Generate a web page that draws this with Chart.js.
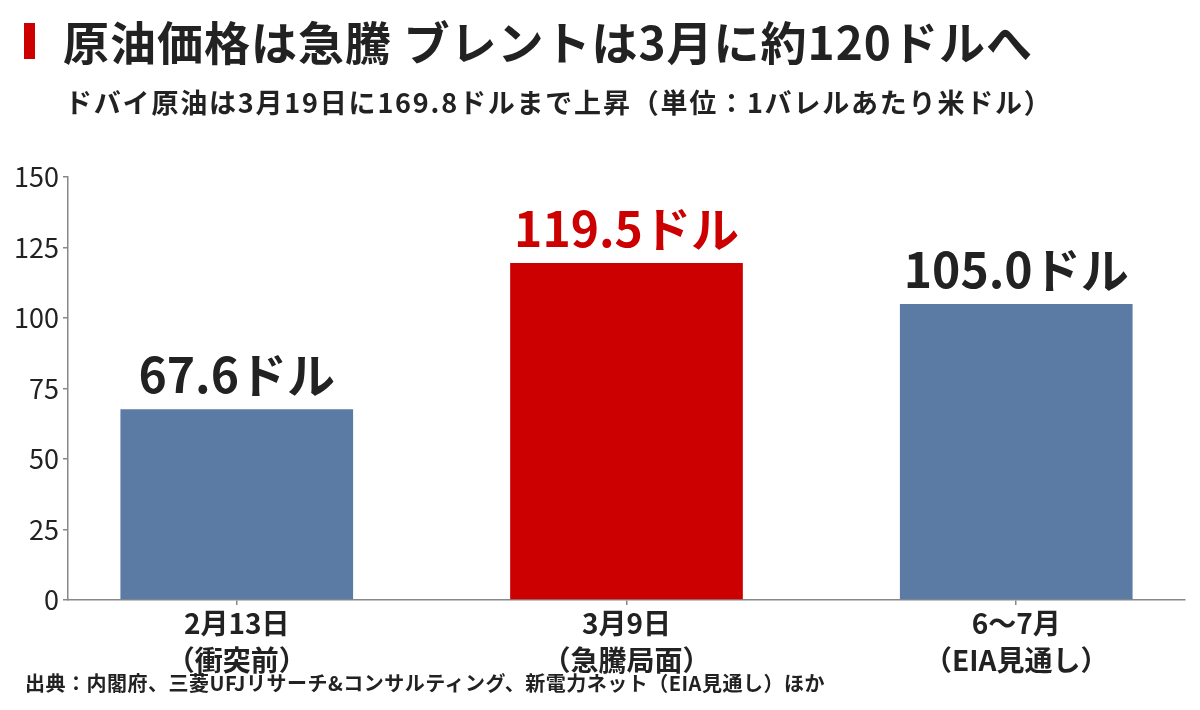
<!DOCTYPE html>
<html lang="ja">
<head>
<meta charset="utf-8">
<script src="https://cdn.jsdelivr.net/npm/chart.js@4"></script>
<style>
  html, body { margin:0; padding:0; background:#fff; }
  body { width:1200px; height:710px; position:relative; overflow:hidden;
         font-family:"Noto Sans CJK JP","Noto Sans",sans-serif; color:#222; }
  #wrap { position:absolute; left:0; top:0; width:1200px; height:710px; }
  .mark { position:absolute; left:24px; top:23px; width:11px; height:36px; background:#cc0000; }
  .title { position:absolute; left:63px; top:9px; font-size:46px; font-weight:700; line-height:62px; white-space:nowrap; letter-spacing:1px; }
  .sub { position:absolute; left:65px; top:84px; font-size:27px; font-weight:700; line-height:36px; white-space:nowrap; letter-spacing:1.8px; }
  .foot { position:absolute; left:25px; top:670px; font-size:20px; font-weight:700; line-height:26px; white-space:nowrap; letter-spacing:0.5px; }
</style>
</head>
<body>
<div id="wrap"><canvas id="c" width="1200" height="710"></canvas></div>
<div class="mark"></div>
<div class="title">原油価格は急騰 ブレントは3月に約120ドルへ</div>
<div class="sub">ドバイ原油は3月19日に169.8ドルまで上昇（単位：1バレルあたり米ドル）</div>
<div class="foot">出典：内閣府、三菱UFJリサーチ&amp;コンサルティング、新電力ネット（EIA見通し）ほか</div>
<script>
const categories = [["2月13日","（衝突前）"],["3月9日","（急騰局面）"],["6〜7月","（EIA見通し）"]];
const values = [67.6, 119.5, 105.0];
const valueLabels = ["67.6ドル","119.5ドル","105.0ドル"];
const barColors = ["#5b7ba5","#cc0000","#5b7ba5"];
const labelColors = ["#222222","#cc0000","#222222"];
const yTicks = [0,25,50,75,100,125,150];

const FONT = '"Noto Sans CJK JP","Noto Sans",sans-serif';

const valueLabelPlugin = {
  id:'valueLabels',
  afterDatasetsDraw(chart){
    const ctx = chart.ctx;
    const meta = chart.getDatasetMeta(0);
    ctx.save();
    ctx.font = '700 48px ' + FONT;
    ctx.textAlign = 'center';
    ctx.textBaseline = 'alphabetic';
    meta.data.forEach((bar,i)=>{
      ctx.fillStyle = labelColors[i];
      ctx.fillText(valueLabels[i], bar.x, bar.y - 16);
    });
    ctx.restore();
  }
};

new Chart(document.getElementById('c'), {
  type:'bar',
  data:{
    datasets:[{
      data: values.map((v,i)=>({x:i, y:v})),
      backgroundColor: barColors,
      borderWidth:0,
      barPercentage:0.597,
      categoryPercentage:1.0
    }]
  },
  options:{
    responsive:false,
    animation:false,
    layout:{ padding:{ top:177, right:15, left:0, bottom:0 } },
    plugins:{ legend:{display:false}, tooltip:{enabled:false}, title:{display:false} },
    scales:{
      x:{
        type:'linear',
        offset:false,
        min:-0.433, max:2.433,
        afterBuildTicks(axis){ axis.ticks = [0,1,2].map(v=>({value:v})); },
        afterFit(scale){ scale.height = 110; },
        border:{ display:true, color:'#888', width:1.5 },
        grid:{ offset:false, drawOnChartArea:false, drawTicks:true, tickLength:5, color:'#888', lineWidth:1.5 },
        ticks:{
          autoSkip:false, maxRotation:0, padding:0,
          color:'#222',
          font:{ family:FONT, size:28, weight:'700', lineHeight:1.32 },
          callback:(v)=>categories[v]
        }
      },
      y:{
        min:0, max:150,
        afterBuildTicks(axis){ axis.ticks = yTicks.map(v=>({value:v})); },
        afterFit(scale){ scale.width = 68; },
        border:{ display:true, color:'#888', width:1.5 },
        grid:{ drawOnChartArea:false, drawTicks:true, tickLength:5, color:'#888', lineWidth:1.5 },
        ticks:{ padding:4, color:'#222', font:{ family:FONT, size:27, weight:'400' } }
      }
    }
  },
  plugins:[valueLabelPlugin]
});
</script>
</body>
</html>
